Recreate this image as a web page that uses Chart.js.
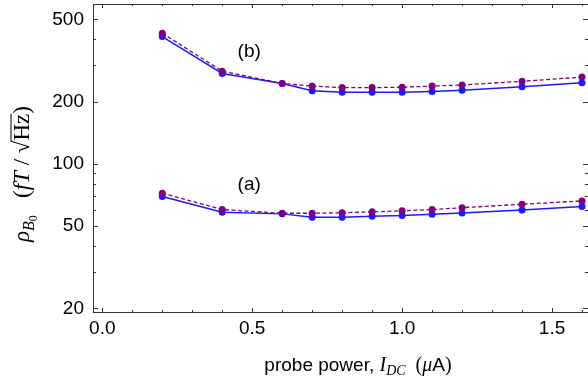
<!DOCTYPE html>
<html>
<head>
<meta charset="utf-8">
<script src="https://cdn.jsdelivr.net/npm/chart.js@4/dist/chart.umd.min.js"></script>
<style>
  html, body { margin: 0; padding: 0; background: #fff; }
  #wrap { width: 588px; height: 382px; }
</style>
</head>
<body>
<div id="wrap"><canvas id="chart" width="588" height="382"></canvas></div>
<script>
// probe current (uA)
const xValues = [0.2, 0.4, 0.6, 0.7, 0.8, 0.9, 1.0, 1.1, 1.2, 1.4, 1.6];
// curve (b)
const bBlue = [413, 274, 245, 226, 222, 222, 222, 224, 227, 236, 247];
const bPurple = [429, 281, 245, 238, 234, 234, 235, 238, 241, 251, 263];
// curve (a)
const aBlue = [69.6, 58.3, 57.3, 55.2, 55.2, 55.8, 56.2, 57.1, 57.9, 59.9, 62.2];
const aPurple = [72.2, 60.1, 57.7, 57.7, 58.0, 58.6, 59.3, 60.1, 61.4, 63.8, 66.2];

const xMajor = [0, 0.5, 1.0, 1.5];
const xMinor = [0.1, 0.2, 0.3, 0.4, 0.6, 0.7, 0.8, 0.9, 1.1, 1.2, 1.3, 1.4, 1.6];
const yMajor = [20, 50, 100, 200, 500];
const yMinor = [30, 40, 60, 70, 80, 90, 300, 400];

const labels = [
    { text: '(b)', x: 0.49, y: 350 },
    { text: '(a)', x: 0.49, y: 79 }
];

const BLUE = '#1a1aff';
const PURPLE = '#800080';
const FRAME = '#333';
const SANS = '"Liberation Sans", Arial, sans-serif';
const SERIF = '"Liberation Serif", serif';

function pts(ys) {
    return xValues.map((x, i) => ({ x, y: ys[i] }));
}

function series(label, ys, color, dashed) {
    return {
        label,
        data: pts(ys),
        borderColor: color,
        backgroundColor: color,
        borderWidth: dashed ? 1.3 : 1.5,
        borderDash: dashed ? [4, 2.5] : [],
        pointRadius: 3.5,
        pointBorderWidth: 0,
        pointBackgroundColor: color,
        tension: 0
    };
}

// draws a run of text pieces with their own fonts and baseline shifts
function drawRuns(ctx, runs, x, y) {
    let cx = x;
    runs.forEach(r => {
        ctx.font = r.f;
        ctx.fillText(r.t, cx, y + (r.dy || 0));
        const w = ctx.measureText(r.t).width;
        if (r.over) {
            ctx.beginPath();
            ctx.lineWidth = 1;
            ctx.moveTo(cx - 1, y - r.over);
            ctx.lineTo(cx + w, y - r.over);
            ctx.stroke();
        }
        cx += w;
    });
}

function runsWidth(ctx, runs) {
    return runs.reduce((s, r) => { ctx.font = r.f; return s + ctx.measureText(r.t).width; }, 0);
}

const framePlugin = {
    id: 'frame',
    afterDraw(chart) {
        const ctx = chart.ctx;
        const a = chart.chartArea;
        const xs = chart.scales.x, ys = chart.scales.y;
        ctx.save();
        ctx.strokeStyle = FRAME;
        ctx.lineWidth = 1;
        ctx.beginPath();
        ctx.moveTo(a.left, a.top + 0.5); ctx.lineTo(a.right, a.top + 0.5);
        ctx.moveTo(a.left + 0.5, a.top); ctx.lineTo(a.left + 0.5, a.bottom);
        ctx.moveTo(a.left, a.bottom + 0.5); ctx.lineTo(a.right, a.bottom + 0.5);
        const tick = (v, len) => {
            const px = Math.round(xs.getPixelForValue(v)) + 0.5;
            ctx.moveTo(px, a.bottom); ctx.lineTo(px, a.bottom - len);
            ctx.moveTo(px, a.top); ctx.lineTo(px, a.top + len);
        };
        xMajor.forEach(v => tick(v, 4));
        xMinor.forEach(v => tick(v, 2));
        const ytick = (v, len) => {
            const py = Math.round(ys.getPixelForValue(v)) + 0.5;
            ctx.moveTo(a.left, py); ctx.lineTo(a.left + len, py);
            ctx.moveTo(a.right, py); ctx.lineTo(a.right - len, py);
        };
        yMajor.forEach(v => ytick(v, 5));
        yMinor.forEach(v => ytick(v, 3));
        ctx.stroke();

        ctx.fillStyle = '#000';
        ctx.strokeStyle = '#000';
        ctx.textAlign = 'center';
        ctx.textBaseline = 'middle';
        ctx.font = '19px ' + SANS;
        labels.forEach(l => {
            ctx.fillText(l.text, xs.getPixelForValue(l.x), ys.getPixelForValue(l.y));
        });

        // x axis title
        ctx.textAlign = 'left';
        ctx.textBaseline = 'alphabetic';
        const sans = '19px ' + SANS;
        const serif = '20px ' + SERIF;
        const it = 'italic 20px ' + SERIF;
        const xRuns = [
            { t: 'probe power, ', f: sans },
            { t: 'I', f: it },
            { t: 'DC', f: 'italic 14px ' + SERIF, dy: 4 },
            { t: '  (', f: serif },
            { t: 'μ', f: it },
            { t: 'A', f: sans },
            { t: ')', f: serif }
        ];
        const xw = runsWidth(ctx, xRuns);
        drawRuns(ctx, xRuns, 358 - xw / 2, 371);

        // y axis title
        const ys23 = '23px ' + SERIF;
        const yi23 = 'italic 23px ' + SERIF;
        const yRuns = [
            { t: 'ρ', f: yi23 },
            { t: 'B', f: 'italic 16px ' + SERIF, dy: 5 },
            { t: '0', f: '12px ' + SERIF, dy: 8 },
            { t: '   (', f: ys23 },
            { t: 'fT', f: yi23 },
            { t: ' / ', f: ys23 },
            { t: '√', f: ys23 },
            { t: 'Hz', f: ys23, over: 18 },
            { t: ')', f: ys23 }
        ];
        const yw = runsWidth(ctx, yRuns);
        ctx.translate(29, 174);
        ctx.rotate(-Math.PI / 2);
        drawRuns(ctx, yRuns, -yw / 2, 0);
        ctx.restore();
    }
};

new Chart(document.getElementById('chart'), {
    type: 'line',
    data: {
        datasets: [
            series('(b) dashed', bPurple, PURPLE, true),
            series('(a) dashed', aPurple, PURPLE, true),
            series('(b)', bBlue, BLUE, false),
            series('(a)', aBlue, BLUE, false)
        ]
    },
    options: {
        responsive: false,
        animation: false,
        layout: { autoPadding: false, padding: { top: 4, right: 0, left: 0, bottom: 0 } },
        plugins: { legend: { display: false }, tooltip: { enabled: false } },
        scales: {
            x: {
                type: 'linear',
                min: -0.031,
                max: 1.62,
                grid: { display: false, drawTicks: false },
                border: { display: false },
                afterBuildTicks: s => { s.ticks = xMajor.map(v => ({ value: v })); },
                afterFit: s => { s.height = 70; s.paddingLeft = 0; s.paddingRight = 0; },
                ticks: {
                    padding: 5,
                    color: '#000',
                    font: { family: SANS, size: 19 },
                    maxRotation: 0,
                    callback: v => Number(v).toFixed(1)
                }
            },
            y: {
                type: 'logarithmic',
                min: 19.2,
                max: 594,
                grid: { display: false, drawTicks: false },
                border: { display: false },
                afterBuildTicks: s => { s.ticks = yMajor.map(v => ({ value: v })); },
                afterFit: s => { s.width = 93; s.paddingTop = 0; s.paddingBottom = 0; },
                ticks: {
                    padding: 9,
                    color: '#000',
                    font: { family: SANS, size: 19 },
                    callback: v => String(v)
                }
            }
        }
    },
    plugins: [framePlugin]
});
</script>
</body>
</html>
